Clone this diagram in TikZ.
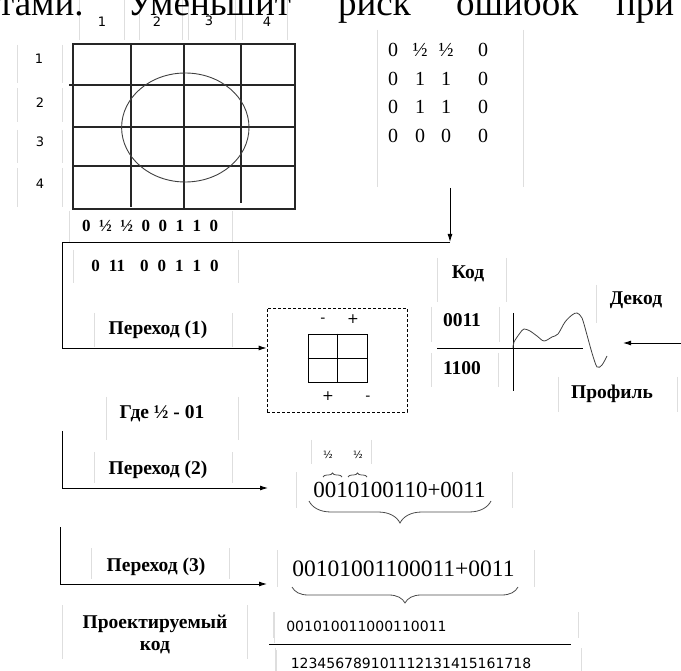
\documentclass[tikz,border=0pt]{standalone}
\usepackage{fontspec}
\setmainfont{Liberation Serif}
\newfontfamily\sansf{DejaVu Sans}
\usetikzlibrary{arrows.meta,decorations.pathreplacing}
\newcommand\matrow[4]{\makebox[24pt]{#1}\makebox[30pt]{#2}\makebox[22pt]{#3}\makebox[52pt]{#4}}
\begin{document}
\begin{tikzpicture}[x=1pt,y=-1pt,
  ln/.style={line width=0.9pt},
  arr/.style={line width=0.9pt,-{Latex[length=8pt,width=5pt]}},
  gridl/.style={line width=1.1pt,draw=black!85},
  faint/.style={draw=black!13,line width=0.7pt},
  lbl/.style={font=\bfseries\fontsize{19.5}{22}\selectfont,inner sep=0,anchor=base},
  bnum/.style={font=\bfseries\fontsize{17}{20}\selectfont,inner sep=0,anchor=base},
  mat/.style={font=\fontsize{20}{24}\selectfont,inner sep=0,anchor=base west},
  sml/.style={font=\sansf\fontsize{13}{15}\selectfont,inner sep=0,anchor=base},
  sgn/.style={font=\sansf\fontsize{14}{16}\selectfont,inner sep=0},
  tiny/.style={font=\sansf\fontsize{10}{12}\selectfont,inner sep=0,anchor=base},
  code/.style={font=\fontsize{23}{26}\selectfont,inner sep=0,anchor=base},
  snum/.style={font=\sansf\fontsize{14}{16}\selectfont,inner sep=0,anchor=base},
  big/.style={font=\fontsize{37}{40}\selectfont,inner sep=0,anchor=base west},
  brc/.style={decorate,draw=black!70,line width=0.8pt}]
\useasboundingbox (0,0) rectangle (681,671);
\clip (0,0) rectangle (681,671);
% faint text-box borders
\foreach \xa/\ya/\yb in {79/0/40,124/0/40,139/0/40,182/0/40,188/0/40,235/0/40,242/0/40,287/0/40,
  17/45/83,62/45/83,17/88/122,62/88/122,17/130/163,62/130/163,17/168/207,62/168/207,
  69/211/243,232/211/243,377/30/187,523/30/187,73/250/283,238/250/283,
  94/313/347,232/313/347,106/397/440,238/397/440,437/258/302,506/258/302,
  431/307/342,499/307/342,431/353/387,498/353/387,596/285/323,558/377/412,677/377/412,
  94/452/483,232/452/483,91/548/579,229/548/579,62/605/659,247/605/659,274/612/643,276/650/671,
  311/440/464,371/440/464,296/472/508,512/472/508,277/550/587,534/550/587,
  273/612/638,578/612/638,275/648/671,581/648/671}
  \draw[faint] (\xa,\ya) -- (\xa,\yb);
% top text line (cut)
\node[big] (t1) at (-2,16) {тами.};
\node[big] (t2) at (127,16) {Уменьшит};
\node[big] (t3) at (338,16) {риск};
\node[big] (t4) at (456,16) {ошибок};
\node[big] (t5) at (616,16) {при};
% column and row labels
\node[sml] (col1) at (102,27) {1};
\node[sml] (col2) at (157,27) {2};
\node[sml] (col3) at (209,26) {3};
\node[sml] (col4) at (267,27) {4};
\node[sml] (row1) at (39,64) {1};
\node[sml] (row2) at (40,108) {2};
\node[sml] (row3) at (40,147) {3};
\node[sml] (row4) at (40,189) {4};
% grid with ellipse
\draw[gridl] (73,44) rectangle (295,209);
\draw[gridl] (69,85) -- (295,85);
\draw[gridl] (73,127) -- (295,127);
\draw[gridl] (72,166) -- (295,166);
\draw[gridl] (131,44) -- (131,207);
\draw[gridl] (184,44) -- (184,209);
\draw[gridl] (241,44) -- (241,203);
\draw[line width=0.9pt,black!75] (185.3,127.5) ellipse [x radius=63.7,y radius=54.5];
\node[bnum] (r1) at (150,232) {{\spaceskip=8.5pt 0 ½ ½ 0 0 1 1 0}};
% matrix
\node[mat] (mr1) at (381,57) {\matrow{0}{½}{½}{0}};
\node[mat] (mr2) at (381,86) {\matrow{0}{1}{1}{0}};
\node[mat] (mr3) at (381,114) {\matrow{0}{1}{1}{0}};
\node[mat] (mr4) at (381,143) {\matrow{0}{0}{0}{0}};
% connectors top
\coordinate (c1) at (450,188);
\coordinate (c2) at (450,242);
\coordinate (c3) at (62,242);
\coordinate (c4) at (62,348);
\node[bnum] (r2) at (155,272) {{\spaceskip=9pt 0 11\hspace{6pt} 0 0 1 1 0}};
\node[lbl] (p1) at (158,335) {Переход (1)};
\node[lbl] (gde) at (162,418) {Где ½ - 01};
% dashed box
\node[draw,dash pattern=on 3pt off 2pt,line width=0.8pt,minimum width=140pt,minimum height=104pt,inner sep=0] (dbox) at (337,360) {};
\node[draw,line width=0.9pt,minimum width=59pt,minimum height=48pt,inner sep=0] (q) at (337.5,358) {};
\draw[line width=0.9pt] (q.north) -- (q.south);
\draw[line width=0.9pt] (q.west) -- (q.east);
\node[sgn] (sa) at (323,320) {-};
\node[sgn] (sb) at (353,319) {+};
\node[sgn] (sc) at (328,396) {+};
\node[sgn] (sd) at (368,398) {-};
\draw[arr] (c1) -- (c2);
\draw[ln] (c2) -- (c3) -- (c4);
\draw[arr] (c4) -- (c4 -| dbox.west);
% code / profile
\node[lbl] (kod) at (468,279) {Код};
\node[lbl] (dekod) at (636,305) {Декод};
\node[lbl] (k0011) at (462,327) {0011};
\node[lbl] (k1100) at (462,375) {1100};
\node[lbl] (prof) at (612,399) {Профиль};
\coordinate (ax1) at (437,348);
\coordinate (ax2) at (583,348);
\coordinate (ay1) at (513,313);
\coordinate (ay2) at (513,391);
\draw[ln] (ax1) -- (ax2);
\draw[ln] (ay1) -- (ay2);
\draw[line width=0.8pt,black!75] plot[smooth,tension=0.5] coordinates {(513,348) (514,342) (520,333) (524,329) (530,331) (537,336) (544,341) (552,337) (558,334) (565,322) (572,315) (577,313) (582,318) (587,335) (592,353) (597,367) (602,365) (607,356)};
\coordinate (d1) at (681,343);
\coordinate (d2) at (623,343);
\draw[arr] (d1) -- (d2);
% Переход (2)
\coordinate (e1) at (62,431);
\coordinate (e2) at (62,488);
\coordinate (e3) at (268,488);
\draw[ln] (e1) -- (e2);
\draw[arr] (e2) -- (e3);
\node[lbl] (p2) at (158,475) {Переход (2)};
\node[tiny] (h1) at (328,458) {½};
\node[tiny] (h2) at (358,458) {½};
\node[code] (s1) at (399.5,497) {0010100110+0011};
\draw[brc,decoration={brace,amplitude=4pt}] (323,477) -- (342,477);
\draw[brc,decoration={brace,amplitude=4pt}] (348,477) -- (367,477);
\draw[brc,decoration={brace,mirror,amplitude=22pt}] (309,501) -- (491,501);
% Переход (3)
\coordinate (f1) at (60,527);
\coordinate (f2) at (60,584);
\coordinate (f3) at (267,584);
\draw[ln] (f1) -- (f2);
\draw[arr] (f2) -- (f3);
\node[lbl] (p3) at (156,571) {Переход (3)};
\node[code,font=\fontsize{23.5}{26}\selectfont] (s2) at (403.5,576) {00101001100011+0011};
\draw[brc,decoration={brace,mirror,amplitude=16pt}] (292,587) -- (518,587);
% projected code
\node[lbl] (pk1) at (155,628) {Проектируемый};
\node[lbl] (pk2) at (155,650) {код};
\node[snum] (s3) at (366.5,631) {001010011000110011};
\coordinate (g1) at (269,644);
\coordinate (g2) at (571,644);
\draw[ln] (g1) -- (g2);
\node[snum] (s4) at (411,668) {123456789101112131415161718};
\end{tikzpicture}
\end{document}
